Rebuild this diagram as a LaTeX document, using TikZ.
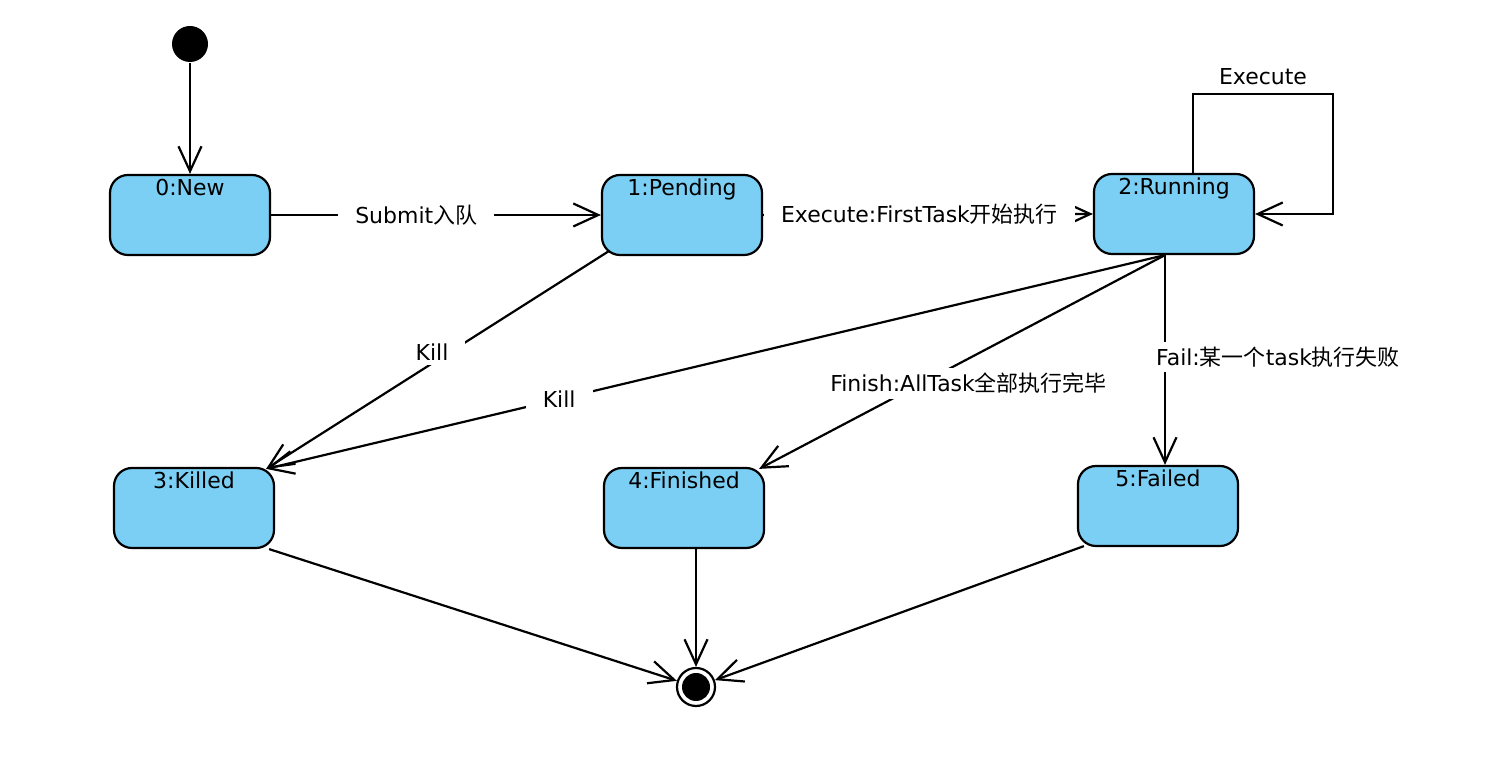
\documentclass[tikz,border=0pt]{standalone}
\usepackage{fontspec}
\setmainfont{DejaVu Sans}
\newfontfamily\cjk{Noto Sans CJK SC}
\usepackage{xcolor}
\usepackage{tikz}
\usetikzlibrary{arrows.meta}
\usetikzlibrary{calc}
\definecolor{stateblue}{RGB}{123,207,244}

\begin{document}
\begin{tikzpicture}[>={Straight Barb[length=5mm,width=4.6mm]}, line width=1.25pt,
	state/.style={draw, fill=stateblue, rounded corners=3.6mm, minimum width=3.2cm, minimum height=1.6cm, inner ysep=1mm, text height=3.2mm, text depth=10.8mm, font=\fontsize{12.5}{15}\selectfont},
	trans/.style={fill=white, inner xsep=3.4mm, inner ysep=1mm, font=\fontsize{12.5}{15}\selectfont}]
		\useasboundingbox (0,0) rectangle (30.2,15.36);
		%coordinates
		\coordinate (CInit) at (3.8,14.48);
		\coordinate (CNew)  at (3.8,11.06);
		\coordinate (CPend) at (13.64,11.06);
		\coordinate (CRun)  at (23.48,11.08);
		\coordinate (CKill) at (3.88,5.2);
		\coordinate (CFin)  at (13.68,5.2);
		\coordinate (CFail) at (23.16,5.24);
		\coordinate (CEnd)  at (13.92,1.62);
		
		%nodes
		\node[circle, fill, minimum size=0.72cm, inner sep=0] (init) at (CInit) {};
		\node[state] (New) at (CNew) {0:New};
		\node[state] (Pending) at (CPend) {1:Pending};
		\node[state] (Running) at (CRun) {2:Running};
		\node[state] (Killed) at (CKill) {3:Killed};
		\node[state] (Finished) at (CFin) {4:Finished};
		\node[state] (Failed) at (CFail) {5:Failed};
		\node[circle, draw, fill=white, minimum size=0.76cm, inner sep=0] (final) at (CEnd) {};
		\node[circle, fill, minimum size=0.56cm, inner sep=0] (finaldot) at (CEnd) {};
		
		\coordinate (RunOut)  at ($(Running.south) + (-0.18,0)$);
		\coordinate (PendOut) at ($(Pending.south west) + (0.16,0.1)$);
		\coordinate (KillIn)  at ($(Killed.north east) + (-0.18,-0.04)$);
		\coordinate (FinIn)   at ($(Finished.north east) + (-0.12,-0.04)$);
		
		\draw[->] (init) -- (New);
		\draw[->] (New.east) -- node[trans, pos=0.44]{Submit{\cjk 入队}} (Pending.west);
		\draw[->] (Pending.east) -- node[trans, pos=0.474]{Execute:FirstTask{\cjk 开始执行}} (Running.west);
		\draw[->] ($(Running.north) + (0.38,0)$) -- ++(0,1.58) -- node[above, yshift=0.04cm, font=\fontsize{12.5}{15}\selectfont]{Execute} ++(2.8,0) |- (Running.east);
		
		\draw[->] (PendOut) -- node[trans, pos=0.516, yshift=0.23cm]{Kill} (KillIn);
		\draw[->] (RunOut) -- node[trans, pos=0.674]{Kill} (KillIn);
		\draw[->] (RunOut) -- node[trans, pos=0.6, xshift=0.94cm]{Finish:AllTask{\cjk 全部执行完毕}} (FinIn);
		\draw[->] (RunOut) -- node[trans, pos=0.486, xshift=2.26cm]{Fail:{\cjk 某一个}task{\cjk 执行失败}} (RunOut |- Failed.north);
		
		\draw[->] ($(Killed.south east) + (-0.12,0)$) -- (final);
		\draw[->] ($(Finished.south) + (0.24,0)$) -- (final);
		\draw[->] ($(Failed.south west) + (0.14,0.02)$) -- (final);
		\end{tikzpicture}
\end{document}
